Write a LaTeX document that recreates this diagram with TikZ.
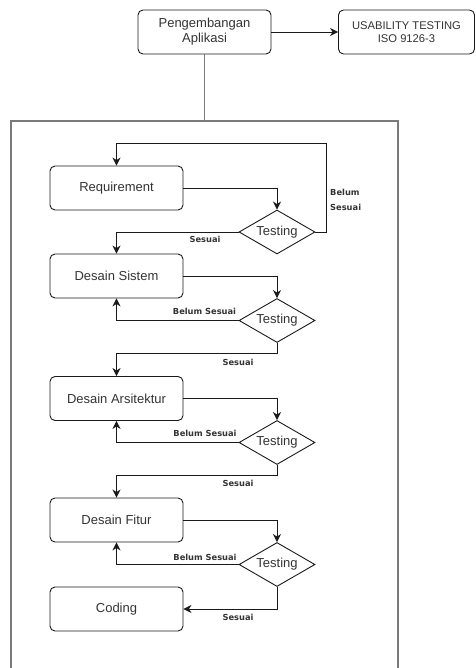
\documentclass[tikz,border=0pt]{standalone}
\usepackage{fontspec}
\setmainfont{Liberation Sans}
\newfontfamily\lblfont{DejaVu Sans}
\usetikzlibrary{shapes.geometric,arrows.meta}
\definecolor{edge}{HTML}{1A1A1A}
\definecolor{frame}{HTML}{7A7A7A}
\definecolor{txt}{HTML}{333333}
\tikzset{
  procbox/.style={draw=edge, line width=0.9pt, rounded corners=5pt, minimum width=133pt, minimum height=44pt, inner sep=0pt, font=\fontsize{13}{15}\selectfont, text=txt, align=center},
  testbox/.style={draw=edge, line width=0.9pt, diamond, shape aspect=1.73, minimum width=76pt, minimum height=44pt, inner sep=0pt, font=\fontsize{13}{14}\selectfont, text=txt},
  flow/.style={draw=edge, line width=0.9pt, -{Stealth[length=8pt,width=8pt,inset=2.5pt]}},
  lbl/.style={font=\lblfont\bfseries\fontsize{8.3}{15}\selectfont, text=txt, inner sep=0pt}
}
\begin{document}
\begin{tikzpicture}[x=1pt,y=-1pt]
\useasboundingbox (0,0) rectangle (475,668);
% top
\node[procbox] (pa) at (204.5,32) {Pengembangan\\Aplikasi};
\node[procbox, minimum width=136pt, font=\fontsize{11.2}{13}\selectfont] (us) at (406.5,32) {USABILITY TESTING\\ISO 9126-3};
\draw[flow] (pa.east) -- (us.west);
% container
\coordinate (ctop) at (204.5,121);
\draw[frame, line width=1.3pt] (11,675) -- (11,121) -- (398,121) -- (398,675);
\draw[frame, line width=1.1pt] (pa.south) -- (ctop);
% process boxes
\node[procbox] (req) at (116.5,188) {Requirement};
\node[procbox] (ds) at (116.5,276) {Desain Sistem};
\node[procbox] (da) at (116.5,398.5) {Desain Arsitektur};
\node[procbox] (df) at (116.5,520) {Desain Fitur};
\node[procbox] (cod) at (116.5,609) {Coding};
% tests
\node[testbox] (t1) at (277,232) {Testing};
\node[testbox] (t2) at (277,320.5) {Testing};
\node[testbox] (t3) at (277,442.5) {Testing};
\node[testbox] (t4) at (277,564.5) {Testing};
% routing points
\coordinate (b1) at (326,143);
\coordinate (s2) at (277,353);
\coordinate (s3) at (277,475);
% edges
\draw[flow] (req.east) -| (t1.north);
\draw[flow] (t1.east) -| (b1) -| (req.north);
\draw[flow] (t1.west) -| (ds.north);
\draw[flow] (ds.east) -| (t2.north);
\draw[flow] (t2.west) -| (ds.south);
\draw[flow] (t2.south) -- (s2) -| (da.north);
\draw[flow] (da.east) -| (t3.north);
\draw[flow] (t3.west) -| (da.south);
\draw[flow] (t3.south) -- (s3) -| (df.north);
\draw[flow] (df.east) -| (t4.north);
\draw[flow] (t4.west) -| (df.south);
\draw[flow] (t4.south) |- (cod.east);
% labels
\node[lbl, anchor=west, align=left] (l0) at (330,200) {Belum\\Sesuai};
\node[lbl] (l1) at (205,239.5) {Sesuai};
\node[lbl] (l2) at (204.5,311) {Belum Sesuai};
\node[lbl] (l3) at (238,362) {Sesuai};
\node[lbl] (l4) at (205,433) {Belum Sesuai};
\node[lbl] (l5) at (238,483.5) {Sesuai};
\node[lbl] (l6) at (205,557) {Belum Sesuai};
\node[lbl] (l7) at (238,617) {Sesuai};
\end{tikzpicture}
\end{document}
